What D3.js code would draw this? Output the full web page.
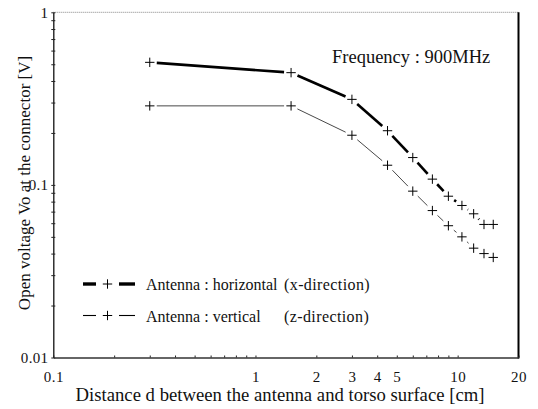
<!DOCTYPE html>
<html>
<head>
<meta charset="utf-8">
<script src="https://cdn.jsdelivr.net/npm/d3@7"></script>
<style>
  body { margin: 0; background: #fff; }
  svg { display: block; font-family: 'Liberation Serif', 'Times New Roman', serif; }
</style>
</head>
<body>
<svg width="538" height="409"></svg>
<script>

// distance d [cm]
let distances = [0.3, 1.5, 3, 4.5, 6, 7.5, 9, 10.5, 12, 13.5, 15];
// open voltage Vo [V]
let horizontalV = [0.513, 0.447, 0.313, 0.206, 0.144, 0.108, 0.086, 0.076, 0.068, 0.059, 0.059];
let verticalV = [0.287, 0.287, 0.194, 0.130, 0.092, 0.071, 0.058, 0.050, 0.043, 0.040, 0.038];

let xTickLabels = [0.1, 1, 2, 3, 4, 5, 10, 20];
let yTickLabels = [0.01, 0.1, 1];

let seriesNames = ['Antenna : horizontal', 'Antenna : vertical'];
let seriesDirs = ['(x-direction)', '(z-direction)'];

let svg = d3.select('svg');

let xScale = d3.scaleLog()
               .domain([0.1, 20])
               .range([53.3, 518.5]);

let yScale = d3.scaleLog()
               .domain([0.01, 1])
               .range([357.5, 12.3]);

// frame: dotted top, heavy right
svg.append('line')
   .attr('x1', xScale(0.1)).attr('x2', xScale(20))
   .attr('y1', yScale(1)).attr('y2', yScale(1))
   .attr('stroke', '#666')
   .attr('stroke-width', 0.8)
   .attr('stroke-dasharray', '1,1');

svg.append('line')
   .attr('x1', xScale(20)).attr('x2', xScale(20))
   .attr('y1', yScale(1)).attr('y2', yScale(0.01) + 1)
   .attr('stroke', '#000')
   .attr('stroke-width', 2);

// y axis
let yAxis = d3.axisLeft(yScale)
              .tickSizeInner(2)
              .tickSizeOuter(0)
              .tickPadding(3)
              .tickFormat(function(d) {
                return yTickLabels.some(v => Math.abs(v - d) < 1e-9) ? d3.format('~g')(d) : '';
              });

let yAxisG = svg.append('g')
   .attr('transform', 'translate(' + xScale(0.1) + ',0)')
   .call(yAxis);

yAxisG.select('.domain').attr('stroke', '#111').attr('stroke-width', 1.3);
yAxisG.selectAll('.tick line').attr('stroke', '#222');
yAxisG.selectAll('text')
      .style('font-family', "'Liberation Serif', serif")
      .style('font-size', '15px')
      .style('letter-spacing', '0.3px')
      .attr('fill', '#111');

svg.append('g')
   .attr('transform', 'translate(' + xScale(0.1) + ',0)')
   .call(d3.axisRight(yScale).tickSize(2).tickFormat(''))
   .call(g => g.select('.domain').remove())
   .selectAll('.tick line').attr('stroke', '#222');

// x axis
let xTicksG = svg.append('g')
   .attr('transform', 'translate(0,' + yScale(0.01) + ')')
   .call(d3.axisTop(xScale).tickSizeInner(2).tickSizeOuter(0).tickFormat(''));

xTicksG.select('.domain').attr('stroke', '#333').attr('stroke-width', 1.3);
xTicksG.selectAll('.tick line').attr('stroke', '#222');

let xAxis = d3.axisBottom(xScale)
              .tickSize(0)
              .tickPadding(14)
              .tickValues(xTickLabels)
              .tickFormat(d3.format('~g'));

svg.append('g')
   .attr('transform', 'translate(0,' + yScale(0.01) + ')')
   .call(xAxis)
   .call(g => g.select('.domain').remove())
   .selectAll('text')
   .style('font-family', "'Liberation Serif', serif")
   .style('font-size', '15px')
   .style('letter-spacing', '0.5px')
   .attr('fill', '#111');

// axis titles
svg.append('text')
   .attr('x', 280)
   .attr('y', 401)
   .attr('text-anchor', 'middle')
   .style('font-size', '18.7px')
   .attr('fill', '#111')
   .text('Distance d between the antenna and torso surface [cm]');

svg.append('text')
   .attr('transform', 'translate(30,183) rotate(-90)')
   .attr('text-anchor', 'middle')
   .style('font-size', '17px')
   .attr('fill', '#111')
   .text('Open voltage Vo at the connector [V]');

svg.append('text')
   .attr('x', 332)
   .attr('y', 63)
   .style('font-size', '18.5px')
   .attr('fill', '#111')
   .text('Frequency : 900MHz');

// lines drawn as segments that stop short of each marker
function drawSeries(values, width, colour) {
  let gap = 7;
  let pts = distances.map((d, i) => [xScale(d), yScale(values[i])]);

  for (let i = 0; i < pts.length - 1; i++) {
    let dx = pts[i + 1][0] - pts[i][0];
    let dy = pts[i + 1][1] - pts[i][1];
    let len = Math.sqrt(dx * dx + dy * dy);
    if (len <= 2 * gap) continue;
    let ux = dx / len, uy = dy / len;
    svg.append('line')
       .attr('x1', pts[i][0] + ux * gap)
       .attr('y1', pts[i][1] + uy * gap)
       .attr('x2', pts[i + 1][0] - ux * gap)
       .attr('y2', pts[i + 1][1] - uy * gap)
       .attr('stroke', colour)
       .attr('stroke-width', width);
  }

  svg.selectAll(null)
     .data(pts)
     .enter()
     .append('path')
     .attr('transform', d => 'translate(' + d[0] + ',' + d[1] + ')')
     .attr('d', 'M-4.7,0H4.7M0,-4.7V4.7')
     .attr('fill', 'none')
     .attr('stroke', '#000')
     .attr('stroke-width', 1);
}

drawSeries(horizontalV, 2.6, '#000');
drawSeries(verticalV, 0.9, '#333');

// legend
let legendRows = [
  { y: 284, w: 3.4, name: seriesNames[0], dir: seriesDirs[0] },
  { y: 315.5, w: 1.1, name: seriesNames[1], dir: seriesDirs[1] }
];

legendRows.forEach(function(r) {
  svg.append('line')
     .attr('x1', 83).attr('x2', 96)
     .attr('y1', r.y).attr('y2', r.y)
     .attr('stroke', '#000').attr('stroke-width', r.w);
  svg.append('line')
     .attr('x1', 119).attr('x2', 135)
     .attr('y1', r.y).attr('y2', r.y)
     .attr('stroke', '#000').attr('stroke-width', r.w);
  svg.append('path')
     .attr('d', 'M' + (107.5 - 4.7) + ',' + r.y + 'H' + (107.5 + 4.7) +
                'M107.5,' + (r.y - 4.7) + 'V' + (r.y + 4.7))
     .attr('stroke', '#000').attr('stroke-width', 1);
  svg.append('text')
     .attr('x', 146).attr('y', r.y + 6)
     .style('font-size', '16px')
     .attr('fill', '#111')
     .text(r.name);
  svg.append('text')
     .attr('x', 284).attr('y', r.y + 6)
     .style('font-size', '16px')
     .style('letter-spacing', '0.4px')
     .attr('fill', '#111')
     .text(r.dir);
});

</script>
</body>
</html>
